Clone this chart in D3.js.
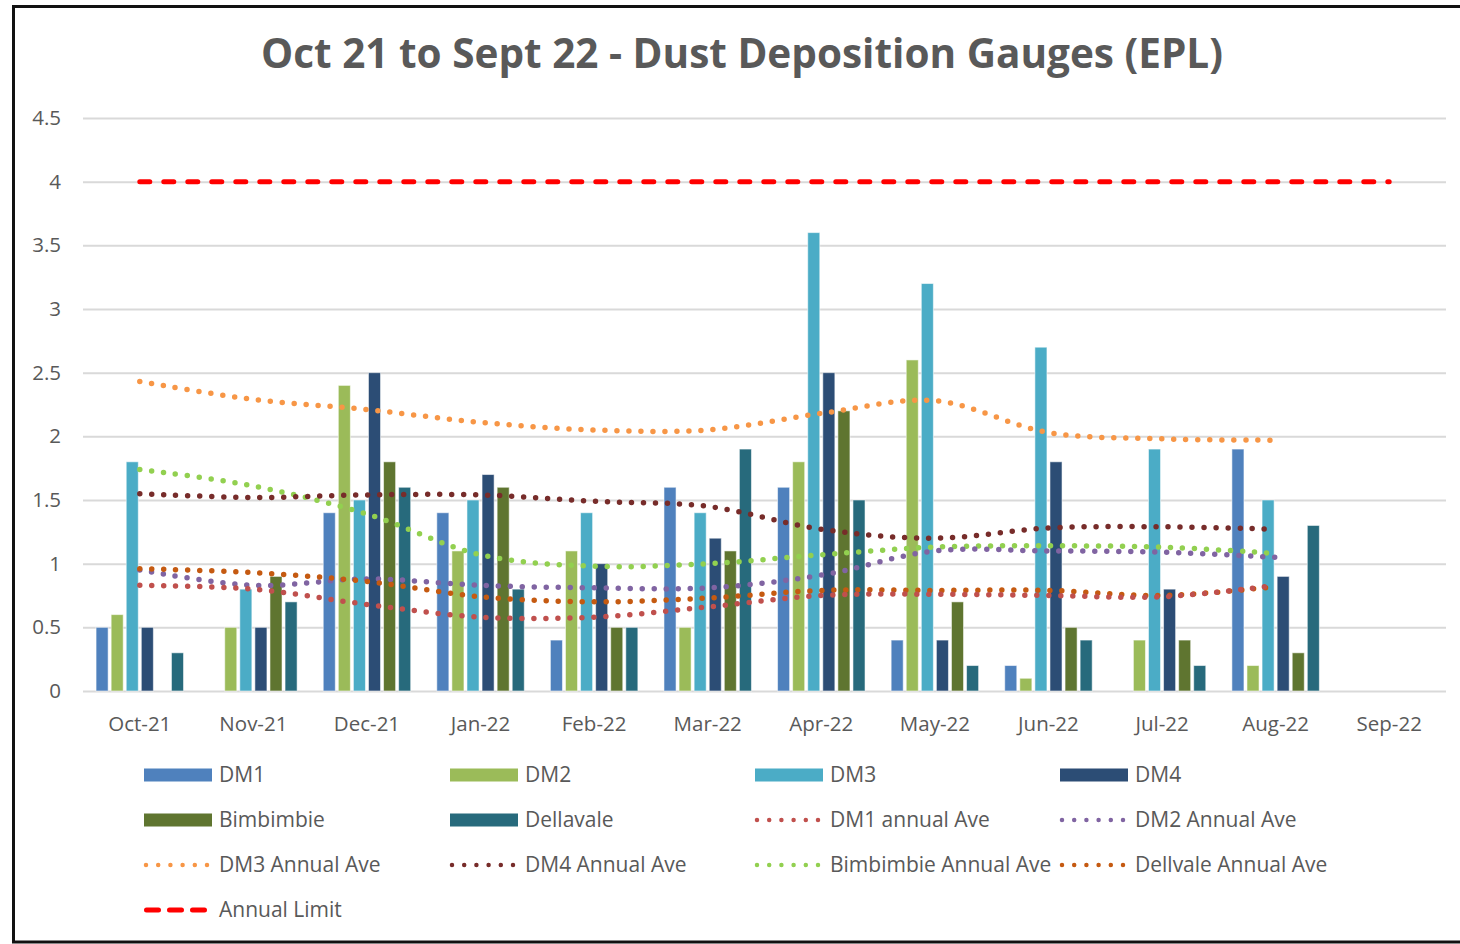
<!DOCTYPE html>
<html>
<head>
<meta charset="utf-8">
<script src="https://cdn.jsdelivr.net/npm/d3@7"></script>
<style>
  body { margin: 0; background: #fff; }
  text { font-family: "Open Sans", "Liberation Sans", sans-serif; }
</style>
</head>
<body>
<div id="chart"></div>
<script>
// values
const months = ["Oct-21", "Nov-21", "Dec-21", "Jan-22", "Feb-22", "Mar-22",
                "Apr-22", "May-22", "Jun-22", "Jul-22", "Aug-22", "Sep-22"];
const yTicks = [0, 0.5, 1, 1.5, 2, 2.5, 3, 3.5, 4, 4.5];

const dm1 = [0.5, null, 1.4, 1.4, 0.4, 1.6, 1.6, 0.4, 0.2, null, 1.9, null];
const dm2 = [0.6, 0.5, 2.4, 1.1, 1.1, 0.5, 1.8, 2.6, 0.1, 0.4, 0.2, null];
const dm3 = [1.8, 0.8, 1.5, 1.5, 1.4, 1.4, 3.6, 3.2, 2.7, 1.9, 1.5, null];
const dm4 = [0.5, 0.5, 2.5, 1.7, 1.0, 1.2, 2.5, 0.4, 1.8, 0.8, 0.9, null];
const bimbimbie = [null, 0.9, 1.8, 1.6, 0.5, 1.1, 2.2, 0.7, 0.5, 0.4, 0.3, null];
const dellavale = [0.3, 0.7, 1.6, 0.8, 0.5, 1.9, 1.5, 0.2, 0.4, 0.2, 1.3, null];

// annual average curves (Oct-21 .. Aug-22)
const dm1Ave = [0.83, 0.80, 0.68, 0.58, 0.58, 0.66, 0.75, 0.76, 0.75, 0.74, 0.83];
const dm2Ave = [0.95, 0.83, 0.88, 0.83, 0.81, 0.81, 0.91, 1.10, 1.10, 1.09, 1.05];
const dm3Ave = [2.43, 2.29, 2.21, 2.11, 2.05, 2.05, 2.18, 2.28, 2.03, 1.98, 1.97];
const dm4Ave = [1.55, 1.52, 1.54, 1.54, 1.49, 1.45, 1.27, 1.20, 1.28, 1.29, 1.27];
const bimbimbieAve = [1.74, 1.61, 1.39, 1.07, 0.98, 1.00, 1.07, 1.13, 1.14, 1.13, 1.08];
const dellvaleAve = [0.96, 0.93, 0.86, 0.74, 0.70, 0.73, 0.79, 0.79, 0.79, 0.75, 0.82];

const annualLimit = [4, 4, 4, 4, 4, 4, 4, 4, 4, 4, 4, 4];

const barSeries = [
    { name: "DM1", values: dm1, color: "#4F81BD" },
    { name: "DM2", values: dm2, color: "#9BBB59" },
    { name: "DM3", values: dm3, color: "#4BACC6" },
    { name: "DM4", values: dm4, color: "#2C4D75" },
    { name: "Bimbimbie", values: bimbimbie, color: "#5F7530" },
    { name: "Dellavale", values: dellavale, color: "#276A7C" }
];

const aveSeries = [
    { name: "DM1 annual Ave", values: dm1Ave, color: "#C0504D" },
    { name: "DM2 Annual Ave", values: dm2Ave, color: "#8064A2" },
    { name: "DM3 Annual Ave", values: dm3Ave, color: "#F79646" },
    { name: "DM4 Annual Ave", values: dm4Ave, color: "#772C2A" },
    { name: "Bimbimbie Annual Ave", values: bimbimbieAve, color: "#92D050" },
    { name: "Dellvale Annual Ave", values: dellvaleAve, color: "#C55A11" }
];

const W = 1460, H = 944;
const margin = { top: 118, right: 14, bottom: 253, left: 83 };
const width = W - margin.left - margin.right;
const height = H - margin.top - margin.bottom;

const svg = d3.select("#chart").append("svg")
    .attr("width", W)
    .attr("height", H);

// chart frame
svg.append("rect")
    .attr("x", 13.5).attr("y", 6.5)
    .attr("width", 1460).attr("height", 935.5)
    .attr("fill", "#fff")
    .attr("stroke", "#111")
    .attr("stroke-width", 3);

svg.append("text")
    .attr("x", 742)
    .attr("y", 68)
    .attr("text-anchor", "middle")
    .style("font-size", "40.5px")
    .style("font-weight", "bold")
    .style("fill", "#595959")
    .text("Oct 21 to Sept 22 - Dust Deposition Gauges (EPL)");

const g = svg.append("g")
    .attr("transform", `translate(${margin.left},${margin.top})`);

const x0 = d3.scaleBand().domain(months).range([0, width]).padding(0);
const bw = x0.bandwidth();
const x1 = d3.scaleBand()
    .domain(barSeries.map(d => d.name))
    .range([bw * 0.115, bw * 0.885])
    .paddingInner(0.2);
const y = d3.scaleLinear().domain([0, 4.5]).range([height, 0]);

// y axis + gridlines
const yAxisG = g.append("g")
    .call(d3.axisLeft(y).tickValues(yTicks).tickSize(-width).tickPadding(22)
        .tickFormat(d3.format("~g")));
yAxisG.select(".domain").remove();
yAxisG.selectAll("line").attr("stroke", "#d9d9d9").attr("stroke-width", 2);
yAxisG.selectAll("text")
    .style("font-size", "20.5px")
    .style("fill", "#595959");

// x axis labels
const xAxisG = g.append("g")
    .attr("transform", `translate(0,${height})`)
    .call(d3.axisBottom(x0).tickSize(0).tickPadding(25));
xAxisG.select(".domain").remove();
xAxisG.selectAll("text")
    .style("font-size", "20.5px")
    .style("fill", "#595959");

// bars
const groups = g.selectAll(".monthG")
    .data(months)
    .join("g")
    .attr("class", "monthG")
    .attr("transform", d => `translate(${x0(d)},0)`);

groups.selectAll("rect")
    .data((m, i) => barSeries
        .map(s => ({ name: s.name, color: s.color, value: s.values[i] }))
        .filter(d => d.value != null))
    .join("rect")
    .attr("x", d => x1(d.name))
    .attr("width", x1.bandwidth())
    .attr("y", d => y(d.value))
    .attr("height", d => height - y(d.value))
    .attr("fill", d => d.color)
    .attr("stroke", "rgba(255,255,255,0.55)")
    .attr("stroke-width", 1);

// dotted average curves
const xc = i => x0(months[i]) + bw / 2;
const aveLine = d3.line()
    .x((d, i) => xc(i))
    .y(d => y(d))
    .curve(d3.curveCatmullRom.alpha(0.5));

const drawOrder = [2, 4, 3, 1, 5, 0];
drawOrder.forEach(k => {
    const s = aveSeries[k];
    g.append("path")
        .datum(s.values)
        .attr("d", aveLine)
        .attr("fill", "none")
        .attr("stroke", s.color)
        .attr("stroke-width", 5.5)
        .attr("stroke-linecap", "round")
        .attr("stroke-dasharray", "0,12");
});

// annual limit
g.append("path")
    .datum(annualLimit)
    .attr("d", d3.line().x((d, i) => xc(i)).y(d => y(d)))
    .attr("fill", "none")
    .attr("stroke", "#FF0000")
    .attr("stroke-width", 5)
    .attr("stroke-linecap", "round")
    .attr("stroke-dasharray", "10,14");

// legend
const legendItems = [
    ...barSeries.map(s => ({ name: s.name, color: s.color, type: "bar" })),
    ...aveSeries.map(s => ({ name: s.name, color: s.color, type: "dot" })),
    { name: "Annual Limit", color: "#FF0000", type: "dash" }
];
const colX = [144, 450, 755, 1060];
const rowY = [775, 820, 865, 910];

const legend = svg.append("g").attr("class", "legend");
legendItems.forEach((item, i) => {
    const lx = colX[i % 4];
    const ly = rowY[Math.floor(i / 4)];
    const li = legend.append("g").attr("transform", `translate(${lx},${ly})`);
    if (item.type === "bar") {
        li.append("rect")
            .attr("x", 0).attr("y", -6.5)
            .attr("width", 68).attr("height", 13)
            .attr("fill", item.color);
    } else if (item.type === "dot") {
        li.append("line")
            .attr("x1", 2).attr("x2", 63.5).attr("y1", 0).attr("y2", 0)
            .attr("stroke", item.color)
            .attr("stroke-width", 4.5)
            .attr("stroke-linecap", "round")
            .attr("stroke-dasharray", "0,12.2");
    } else {
        li.append("line")
            .attr("x1", 2.5).attr("x2", 62).attr("y1", 0).attr("y2", 0)
            .attr("stroke", item.color)
            .attr("stroke-width", 5)
            .attr("stroke-linecap", "round")
            .attr("stroke-dasharray", "12,11");
    }
    li.append("text")
        .attr("x", 75)
        .attr("y", 0)
        .attr("dy", "0.35em")
        .style("font-size", "21px")
        .style("fill", "#595959")
        .text(item.name);
});
</script>
</body>
</html>
